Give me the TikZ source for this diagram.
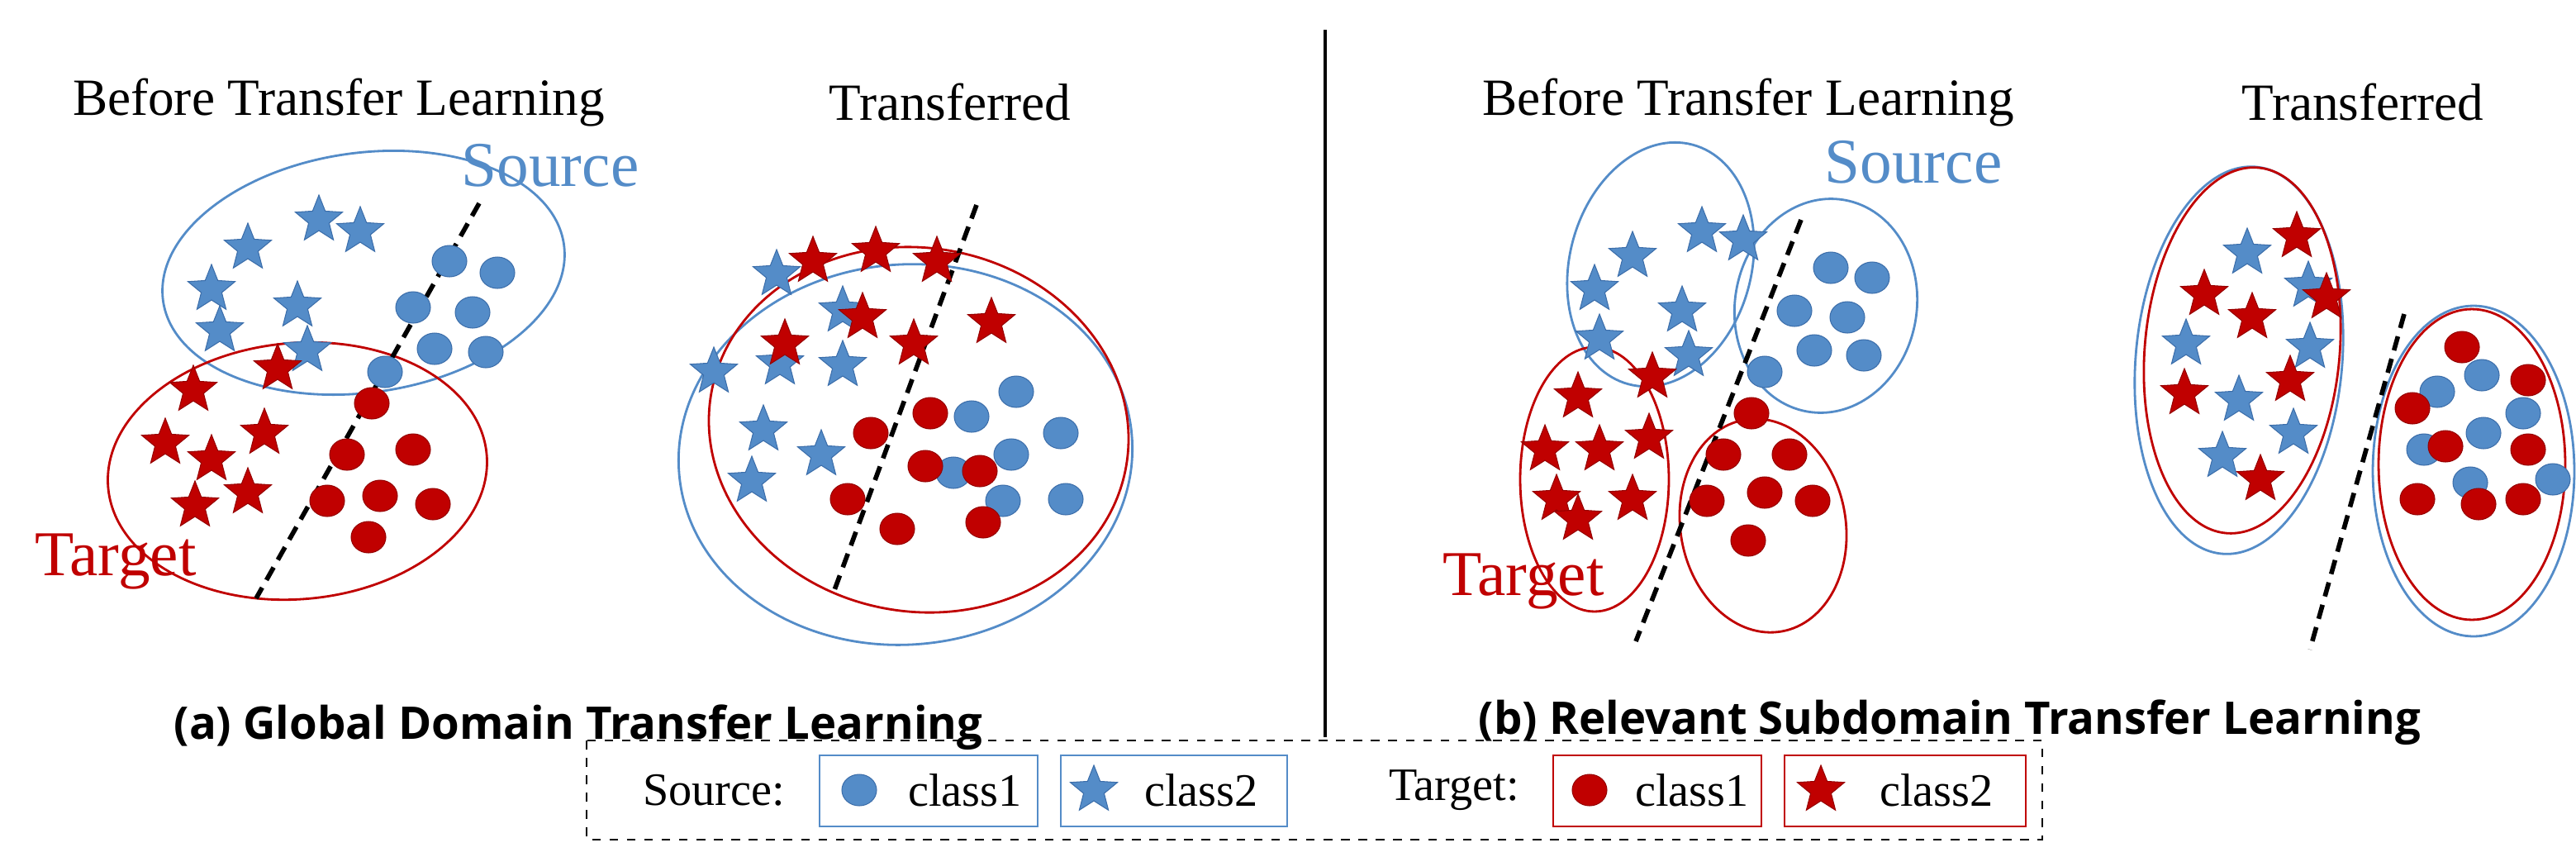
\documentclass[tikz,border=0pt]{standalone}
\usepackage{fontspec}
\setmainfont{Liberation Serif}
\newfontfamily\capfont{Open Sans}
\usetikzlibrary{shapes.geometric}
\definecolor{bl}{RGB}{84,140,200}
\definecolor{bld}{RGB}{60,110,170}
\definecolor{rd}{RGB}{192,0,0}
\definecolor{rdd}{RGB}{150,0,0}
\tikzset{
 bstar/.style={star,star points=5,star point ratio=2.3,fill=bl,draw=bld,line width=0.3pt,minimum size=0.6cm,inner sep=0pt},
 rstar/.style={bstar,fill=rd,draw=rdd},
 bdot/.style={ellipse,fill=bl,draw=bld,line width=0.3pt,minimum width=0.42cm,minimum height=0.38cm,inner sep=0pt},
 rdot/.style={bdot,fill=rd,draw=rdd},
 bel/.style={draw=bl,line width=0.8pt},
 rel/.style={draw=rd,line width=0.8pt},
 sep/.style={line width=1.6pt,dash pattern=on 5pt off 3pt},
 title/.style={font=\fontsize{18}{20}\selectfont},
 captxt/.style={font=\capfont\bfseries\fontsize{15.5}{18}\selectfont},
 leg/.style={font=\fontsize{16}{18}\selectfont}
}
\begin{document}
\begin{tikzpicture}[x=0.02cm,y=-0.02cm]
\useasboundingbox (0,0) rectangle (1559,518);
% ---------- (a) ----------
\node[title] (ta1) at (205,62) {Before Transfer Learning};
\node[title] (ta2) at (575,62) {Transferred};
\node[font=\fontsize{22}{24}\selectfont,text=bl] (srca) at (333,100) {Source};
\node[font=\fontsize{22}{24}\selectfont,text=rd] (tgta) at (70,340) {Target};
\draw[bel,rotate around={8:(220,165)}] (220,165) ellipse [x radius=2.45cm,y radius=1.45cm];
\draw[rel,rotate around={5:(180,285)}] (180,285) ellipse [x radius=2.3cm,y radius=1.55cm];
\draw[sep] (290,123) -- (155,362);
\foreach \p [count=\i] in {(150,150),(193,133),(218,140),(128,175),(180,185),(133,200),(186,212)} \node[bstar] (a1s\i) at \p {};
\foreach \p [count=\i] in {(168,223),(117,236),(100,268),(128,278),(160,262),(118,306),(150,298)} \node[rstar] (a1r\i) at \p {};
\foreach \p [count=\i] in {(272,158),(301,165),(250,186),(286,189),(263,211),(294,213),(233,225)} \node[bdot] (a1b\i) at \p {};
\foreach \p [count=\i] in {(225,244),(210,275),(250,272),(198,303),(230,300),(262,305),(223,325)} \node[rdot] (a1d\i) at \p {};
% transferred (a)
\draw[bel,rotate around={5:(548,275)}] (548,275) ellipse [x radius=2.75cm,y radius=2.3cm];
\draw[rel,rotate around={-10:(556,260)}] (556,260) ellipse [x radius=2.55cm,y radius=2.2cm];
\draw[sep] (591,124) -- (505,357);
\foreach \p [count=\i] in {(470,166),(510,188),(432,225),(472,220),(510,221),(462,260),(497,275),(455,291)} \node[bstar] (a2s\i) at \p {};
\foreach \p [count=\i] in {(492,158),(530,152),(567,158),(522,192),(475,208),(553,208),(600,195)} \node[rstar] (a2r\i) at \p {};
\foreach \p [count=\i] in {(615,237),(588,252),(642,262),(612,275),(577,286),(607,303),(645,302)} \node[bdot] (a2b\i) at \p {};
\foreach \p [count=\i] in {(563,250),(527,262),(560,282),(593,285),(513,302),(543,320),(595,316)} \node[rdot] (a2d\i) at \p {};
\node[captxt] (capa) at (350,440) {(a) Global Domain Transfer Learning};
% divider
\coordinate (d1) at (802,18); \coordinate (d2) at (802,446);
\draw[line width=1.2pt] (d1) -- (d2);
% ---------- (b) ----------
\node[title] (tb1) at (1058,62) {Before Transfer Learning};
\node[title] (tb2) at (1430,62) {Transferred};
\node[font=\fontsize{22}{24}\selectfont,text=bl] (srcb) at (1158,98) {Source};
\node[font=\fontsize{22}{24}\selectfont,text=rd] (tgtb) at (922,352) {Target};
\draw[bel,rotate around={-15:(1005,160)}] (1005,160) ellipse [x radius=1.1cm,y radius=1.5cm];
\draw[bel,rotate around={-10:(1105,185)}] (1105,185) ellipse [x radius=1.1cm,y radius=1.3cm];
\draw[rel] (965,290) ellipse [x radius=0.9cm,y radius=1.6cm];
\draw[rel,rotate around={10:(1067,318)}] (1067,318) ellipse [x radius=1.0cm,y radius=1.3cm];
\draw[sep] (1090,133) -- (990,388);
\foreach \p [count=\i] in {(988,155),(1030,140),(1055,145),(965,175),(1018,188),(968,205),(1022,215)} \node[bstar] (b1s\i) at \p {};
\foreach \p [count=\i] in {(1000,228),(955,240),(935,272),(968,272),(998,265),(942,302),(988,302),(955,314)} \node[rstar] (b1r\i) at \p {};
\foreach \p [count=\i] in {(1108,162),(1133,168),(1086,188),(1118,192),(1098,212),(1128,215),(1068,225)} \node[bdot] (b1b\i) at \p {};
\foreach \p [count=\i] in {(1060,250),(1043,275),(1083,275),(1033,303),(1068,298),(1097,303),(1058,327)} \node[rdot] (b1d\i) at \p {};
% transferred (b)
\draw[bel,rotate around={-5:(1355,218)}] (1355,218) ellipse [x radius=1.25cm,y radius=2.35cm];
\draw[rel,rotate around={-5:(1357,212)}] (1357,212) ellipse [x radius=1.18cm,y radius=2.22cm];
\draw[bel] (1497,285) ellipse [x radius=1.22cm,y radius=2.0cm];
\draw[rel] (1496,281) ellipse [x radius=1.13cm,y radius=1.88cm];
\draw[sep] (1455,190) -- (1398,393);
\foreach \p [count=\i] in {(1360,153),(1397,173),(1398,210),(1323,208),(1355,242),(1388,262),(1345,276)} \node[bstar] (b2s\i) at \p {};
\foreach \p [count=\i] in {(1390,143),(1334,178),(1363,192),(1408,180),(1322,238),(1386,230),(1368,290)} \node[rstar] (b2r\i) at \p {};
\foreach \p [count=\i] in {(1475,237),(1502,227),(1527,250),(1503,262),(1467,272),(1545,290),(1495,292)} \node[bdot] (b2b\i) at \p {};
\foreach \p [count=\i] in {(1490,210),(1530,230),(1460,247),(1480,270),(1530,272),(1463,302),(1500,305),(1527,302)} \node[rdot] (b2d\i) at \p {};
\node[captxt] (capb) at (1180,437) {(b) Relevant Subdomain Transfer Learning};
% ---------- legend ----------
\draw[dashed,line width=0.8pt] (355,448) rectangle (1236,508);
\node[leg] (ls) at (432,478) {Source:};
\draw[bel] (496,457) rectangle (628,500);
\node[bdot] (l1) at (520,478) {};
\node[leg] (l1t) at (584,478) {class1};
\draw[bel] (642,457) rectangle (779,500);
\node[bstar] (l2) at (662,478) {};
\node[leg] (l2t) at (727,478) {class2};
\node[leg] (lt) at (880,478) {Target:};
\draw[rel] (940,457) rectangle (1066,500);
\node[rdot] (l3) at (962,478) {};
\node[leg] (l3t) at (1024,478) {class1};
\draw[rel] (1080,457) rectangle (1226,500);
\node[rstar] (l4) at (1102,478) {};
\node[leg] (l4t) at (1172,478) {class2};
\end{tikzpicture}
\end{document}
